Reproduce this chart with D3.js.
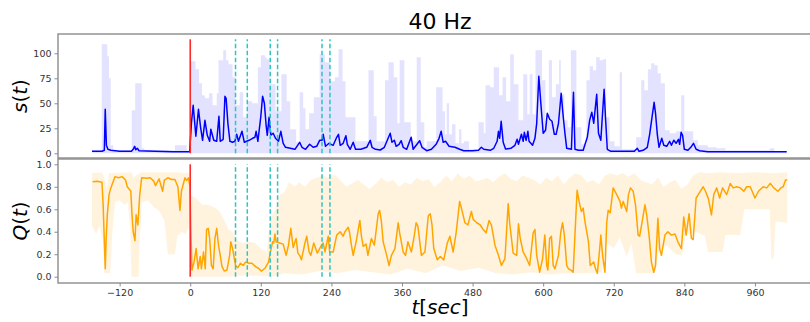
<!DOCTYPE html>
<html><head><meta charset="utf-8">
<script src="https://cdn.jsdelivr.net/npm/d3@7"></script>
<style>
html,body{margin:0;padding:0;background:#fff;}
svg{display:block;font-family:"DejaVu Sans",sans-serif;}
</style></head>
<body><svg id="c" width="810" height="322"></svg>
<script>
// ---------- data ----------
const title = "40 Hz";
const xTicks = [-120, 0, 120, 240, 360, 480, 600, 720, 840, 960];
const sTicks = [0, 25, 50, 75, 100];
const qTicks = [0.0, 0.2, 0.4, 0.6, 0.8, 1.0];
const stimTime = [0];
const dashTimes = [77, 97, 136, 148.5, 224, 237.5];
const markerTop = [0, 114];   // s-range of vertical markers
const markerBot = [0, 1.0];   // Q-range of vertical markers

// s(t) mean line [t, s]
const sLine = [[-167,2],[-150,2],[-146,3],[-144.5,44],[-142.5,8],[-140,4],[-135,3],[-120,2],[-100,2],[-97,4],[-94.5,7],[-92.5,3.5],[-90,5],[-87,2.5],[-60,2],[-30,1.5],[-1,1.5],
[2,30],[5,48],[9.6,17],[14,44],[17.6,26],[21,13],[25,33],[29,18],[33,12],[35,24],[40,13],[45,12],[48.8,37],[51,12],[56,14],[59,57],[61,55],[64,30],[67.5,12],[72,11],[76,12],[79,19],[82,12],[88,22],[92,11],[100,13],[106,15],[110,16],[112,22],[115,12],[120,37],[123,57],[126,50],[129,28],[131,18],[134,36],[137,18],[141,20],[145,15],[150,12],[154,22],[158,10],[162,6],[170,5],[178,4],[186,11],[190,6],[196,4],[203,9],[209,6],[215,7],[220,13],[224,13],[226,19],[230,7],[236,10],[243,8],[249,16],[252,19],[255,8],[260,10],[264.6,17.6],[267,9],[272,4],[277,11],[281,4],[290,4],[300,6],[306,13],[309,6],[315,4],[323,3.3],[330,6],[340,20],[343,11],[347,13],[350,7],[355,9],[358.6,12.6],[362,6],[368,4],[375.6,16],[379,4],[390,12.6],[394,6],[402,2.6],[410,4],[418,9],[423,15],[426.6,22],[430,11],[434,12],[440,7],[450,6],[458,4],[465,2.6],[480,2.6],[490,3],[495,6],[499,4],[510,3],[516,5],[521.7,12],[524,22],[526,15],[528.6,32],[532,11],[536,4.3],[545,5],[552,8],[555.7,14],[558,9],[563,19],[566,12],[568,21],[571,13],[574,22],[576,12],[582,8],[586,15],[589,30],[592.6,77],[596,50],[600,20],[604,23],[607,40],[611,34],[615,32],[619,19],[622,19],[626,30],[630.6,60],[634,37],[637,20],[640,5],[648,4],[651.5,61],[654,4],[660,3],[668,3],[675,16],[679,33],[682.7,41],[686,30],[688,42],[691,59],[694,20],[698,13],[700.5,36],[703.6,64],[706,35],[709,4],[715,2],[755,2],[760,5],[763,2],[770,3],[777,6],[781,19],[785,36],[788.6,51],[791,40],[794,19],[797,6],[801.6,15],[805,8],[810,7],[815,12],[818,8],[822,13],[826,10],[830,14],[832,9],[834.5,21],[837,18],[840,4],[846,3],[851,6],[855.5,10],[860,4],[866,2.6],[880,1.5],[1014,1.5]];

// s(t) spread upper edge (step) [t, s]
const sBand = [[-167,3],[-150.5,109],[-141,97],[-138,75],[-135,8],[-131,3],[-99.5,43],[-93.5,70],[-82.5,5],[-78,3],[-26,8],[-6,3],[0,92],[9,84],[15,70],[20,58],[25,55],[32,60],[38,48],[45,60],[48,93],[56,103],[61,93],[65,89],[72,76],[77,48],[84,61],[90,36],[97,52],[105,50],[115,86],[120,98],[127,96],[130,94],[135,69],[145,42],[155,79],[164,52],[170,24],[180,11],[186,61],[192,45],[196,24],[202,40],[210,56],[220,99],[229,91],[237,72],[246,76],[252,104],[259,72],[264,36],[281,12],[303,83],[312,37],[317,12],[331,73],[337,91],[346,76],[352,30],[356,93],[364,31],[375,12],[385,96],[392,31],[398,6],[402,12],[418,66],[429,42],[433,19],[436,50],[440,19],[445,29],[451,10],[457,24],[461,10],[465,12],[474,4],[490,31],[499,20],[502,68],[510,66],[516,86],[525,58],[531,76],[537,52],[544,99],[550,69],[558,33],[566,79],[573,39],[577,79],[582,39],[587,103],[598,73],[604,33],[609.6,93],[615,56],[621.5,69],[627,93],[630,59],[636,33],[641.6,26],[647,103],[656.5,26],[665,9],[673.5,73],[679,87],[684.7,83],[690,96],[696,93],[701.6,94],[707,36],[713,12],[721.4,7],[730,81],[734,4],[758,16],[766.6,73],[772,63],[778,84],[783.5,90],[789,88],[794.6,80],[800,70],[807,23],[815,20],[826,22],[834.5,58],[840,22],[846,22],[855,13],[863,8],[880,6],[895,5],[910,3],[985,5],[993,2],[1014,2]];

// Q(t) mean line [t, Q]
const qLine = [[-166,0.845],[-158,0.85],[-150,0.84],[-148,0.63],[-144.5,0.07],[-143,0.33],[-141,0.55],[-138,0.73],[-135,0.79],[-128,0.89],[-122,0.88],[-116,0.89],[-110,0.86],[-107,0.8],[-101,0.76],[-99,0.55],[-97,0.4],[-94,0.32],[-92,0.55],[-89,0.46],[-86,0.72],[-82.6,0.88],[-74,0.875],[-68,0.88],[-62,0.85],[-59,0.81],[-53,0.87],[-47,0.76],[-44,0.86],[-38,0.88],[-32,0.865],[-26,0.865],[-21,0.80],[-17.5,0.59],[-15,0.76],[-9,0.88],[-6,0.855],[-3,0.88],[-0.5,0.80],
[1,0.42],[3,0.06],[6.5,0.13],[10,0.25],[13.4,0.07],[17,0.18],[19,0.07],[22.6,0.22],[25.5,0.07],[27.8,0.42],[30.6,0.43],[33,0.34],[36,0.10],[39,0.07],[42,0.34],[45,0.43],[48,0.28],[51,0.19],[54,0.09],[58,0.05],[62.5,0.06],[67,0.19],[69,0.31],[72,0.25],[77,0.10],[81,0.08],[85.5,0.12],[90,0.10],[94,0.13],[100,0.12],[105,0.12],[111,0.09],[116,0.075],[121,0.05],[127,0.075],[133,0.13],[136,0.21],[140,0.31],[142,0.30],[144,0.38],[146,0.31],[152,0.30],[158,0.29],[163,0.19],[167,0.28],[171,0.43],[175,0.26],[180,0.34],[183,0.21],[186,0.19],[189,0.15],[195,0.30],[198,0.36],[202,0.22],[205,0.19],[210,0.30],[216,0.21],[223,0.28],[226,0.30],[229,0.22],[234.6,0.36],[237,0.22],[243,0.22],[249,0.37],[255,0.40],[260,0.36],[263,0.40],[268.6,0.44],[271,0.39],[274,0.28],[277,0.19],[282,0.31],[288.4,0.50],[291,0.36],[294,0.27],[299,0.29],[302,0.19],[308,0.34],[313,0.28],[319.5,0.56],[322,0.59],[325,0.49],[328,0.31],[334,0.19],[338,0.10],[342,0.19],[348,0.25],[353.5,0.48],[356,0.39],[362,0.22],[366,0.19],[370,0.31],[376,0.22],[381,0.37],[384,0.48],[387,0.45],[393,0.19],[399,0.22],[404.6,0.54],[408,0.56],[411,0.46],[414,0.25],[420,0.15],[425,0.18],[431,0.15],[437,0.30],[441.4,0.36],[447,0.22],[452,0.39],[458,0.67],[461,0.61],[467,0.48],[472,0.46],[478,0.58],[481,0.51],[487,0.48],[493,0.46],[498,0.42],[503,0.39],[508,0.5],[512,0.46],[518,0.28],[524,0.19],[529,0.10],[535,0.16],[540.5,0.65],[543,0.48],[549,0.21],[555,0.19],[558,0.47],[561,0.34],[566,0.22],[572,0.16],[577,0.10],[583,0.39],[586,0.42],[589,0.19],[594,0.04],[599,0.16],[602.8,0.37],[606,0.10],[608,0.06],[611,0.34],[614,0.36],[617,0.10],[620,0.07],[623,0.13],[626,0.19],[630,0.40],[633,0.48],[636,0.37],[640,0.10],[643,0.07],[647,0.06],[651,0.04],[654,0.37],[657.7,0.77],[661,0.67],[665,0.58],[668,0.61],[671,0.49],[677,0.31],[680,0.10],[686,0.13],[689,0.07],[692,0.03],[695.6,0.22],[698,0.37],[701,0.19],[705,0.04],[708,0.48],[710.5,0.59],[714,0.57],[719,0.79],[725,0.73],[730.6,0.67],[733,0.61],[736,0.67],[742,0.58],[745,0.73],[748.4,0.79],[753,0.76],[757,0.64],[761.4,0.37],[764,0.36],[768,0.48],[773,0.64],[776,0.55],[780,0.37],[784,0.13],[788,0.04],[791,0.10],[795,0.52],[798,0.25],[801,0.19],[807,0.37],[812,0.40],[818,0.37],[824,0.38],[829,0.31],[835,0.25],[839,0.53],[843,0.37],[848,0.56],[852,0.34],[855,0.33],[860,0.70],[866,0.75],[872,0.80],[876,0.76],[881,0.69],[886,0.55],[890,0.73],[895,0.79],[900,0.70],[905,0.79],[912,0.73],[918,0.83],[923,0.79],[929,0.80],[935,0.79],[941,0.76],[946,0.80],[952,0.80],[960,0.70],[966,0.76],[974,0.80],[980,0.79],[986,0.83],[992,0.79],[999,0.76],[1004,0.79],[1008,0.80],[1012,0.86],[1015,0.86]];

// Q(t) spread: upper and lower edges [t, Q]
const qUpper = [[-167,0.92],[-150,0.93],[-146,0.88],[-142,0.78],[-138,0.92],[-100,0.93],[-96,0.88],[-92,0.90],[-84,0.93],[-20,0.93],[-10,0.92],[-1,0.93],[1,0.72],[10,0.70],[20,0.64],[30,0.64],[40,0.62],[50,0.58],[58,0.50],[65,0.42],[72,0.40],[80,0.32],[90,0.30],[100,0.31],[110,0.30],[120,0.25],[130,0.22],[136,0.52],[145,0.60],[152,0.73],[160,0.75],[168,0.84],[178,0.80],[185,0.84],[195,0.80],[205,0.86],[215,0.88],[225,0.90],[235,0.88],[245,0.91],[255,0.86],[265,0.80],[275,0.83],[285,0.86],[295,0.82],[305,0.78],[315,0.83],[325,0.88],[335,0.84],[345,0.86],[355,0.80],[365,0.84],[375,0.82],[385,0.88],[395,0.85],[405,0.87],[415,0.80],[425,0.84],[435,0.90],[445,0.85],[455,0.92],[465,0.87],[475,0.90],[485,0.85],[495,0.86],[505,0.88],[515,0.84],[525,0.89],[535,0.92],[545,0.87],[555,0.85],[565,0.90],[575,0.88],[585,0.86],[595,0.82],[605,0.88],[615,0.85],[625,0.90],[635,0.82],[645,0.88],[655,0.92],[665,0.90],[675,0.84],[685,0.86],[695,0.82],[705,0.90],[715,0.92],[725,0.90],[735,0.92],[745,0.89],[755,0.92],[765,0.86],[775,0.84],[785,0.82],[795,0.88],[805,0.80],[815,0.84],[825,0.86],[835,0.78],[845,0.82],[855,0.90],[865,0.93],[880,0.92],[900,0.93],[930,0.92],[960,0.93],[990,0.92],[1015,0.93]];
const qLower = [[-167,0.45],[-160,0.38],[-154,0.45],[-148,0.30],[-146,0.03],[-136,0.03],[-133,0.35],[-128,0.66],[-120,0.68],[-112,0.64],[-106,0.66],[-102,0.40],[-100,0.0],[-88,0.0],[-86,0.32],[-82,0.66],[-72,0.68],[-62,0.62],[-52,0.58],[-44,0.50],[-38,0.20],[-26,0.20],[-22,0.36],[-15,0.40],[-8,0.38],[-1,0.45],[1,0.0],[60,0.0],[100,0.01],[140,0.0],[160,0.03],[190,0.02],[220,0.05],[250,0.03],[280,0.06],[310,0.04],[340,0.02],[370,0.07],[400,0.03],[430,0.1],[460,0.05],[490,0.08],[520,0.03],[550,0.02],[580,0.04],[610,0.02],[640,0.03],[670,0.03],[700,0.04],[708,0.30],[720,0.25],[730,0.35],[742,0.18],[750,0.30],[758,0.03],[790,0.03],[796,0.22],[810,0.28],[825,0.20],[836,0.19],[842,0.37],[860,0.40],[875,0.36],[880,0.22],[905,0.22],[910,0.37],[935,0.37],[942,0.6],[985,0.6],[988,0.16],[992,0.16],[995,0.49],[1015,0.48]];

// ---------- layout ----------
const svg = d3.select("#c");
const L = 58, R = 822;
const top1 = 34, bot1 = 158, top2 = 159, bot2 = 283;
const x = d3.scaleLinear().domain([-224.8, 1074]).range([L, R]);
const yS = d3.scaleLinear().domain([-4.7, 119.3]).range([bot1, top1]);
const yQ = d3.scaleLinear().domain([-0.056, 1.047]).range([bot2, top2]);

const defs = svg.append("defs");
defs.append("clipPath").attr("id","c1").append("rect").attr("x",L).attr("y",top1).attr("width",R-L).attr("height",bot1-top1);
defs.append("clipPath").attr("id","c2").append("rect").attr("x",L).attr("y",top2).attr("width",R-L).attr("height",bot2-top2);

// ---- top panel ----
const g1 = svg.append("g").attr("clip-path","url(#c1)");
g1.append("path").datum(sBand)
  .attr("d", d3.area().curve(d3.curveStepAfter).x(d=>x(d[0])).y0(yS(0)).y1(d=>yS(d[1])))
  .attr("fill","rgba(0,0,255,0.11)");
g1.append("path").datum(sLine)
  .attr("d", d3.line().x(d=>x(d[0])).y(d=>yS(d[1])))
  .attr("fill","none").attr("stroke","#0000ff").attr("stroke-width",1.5).attr("stroke-linejoin","round");
g1.selectAll("line.stim").data(stimTime).join("line")
  .attr("x1",d=>x(d)).attr("x2",d=>x(d)).attr("y1",yS(markerTop[0])).attr("y2",yS(markerTop[1]))
  .attr("stroke","#ff2a2a").attr("stroke-width",1.6);
g1.selectAll("line.dash").data(dashTimes).join("line")
  .attr("x1",d=>x(d)).attr("x2",d=>x(d)).attr("y1",yS(markerTop[0])).attr("y2",yS(markerTop[1]))
  .attr("stroke","#2ec4c4").attr("stroke-width",1.5).attr("stroke-dasharray","4.5,2.5");

// ---- bottom panel ----
const g2 = svg.append("g").attr("clip-path","url(#c2)");
const poly = qUpper.concat(qLower.slice().reverse());
g2.append("path").datum(poly)
  .attr("d", d3.line().x(d=>x(d[0])).y(d=>yQ(d[1])) + "")
  .attr("d", d3.line().x(d=>x(d[0])).y(d=>yQ(d[1]))(poly) + "Z")
  .attr("fill","rgba(255,165,0,0.13)").attr("stroke","none");
g2.append("path").datum(qLine)
  .attr("d", d3.line().x(d=>x(d[0])).y(d=>yQ(d[1])))
  .attr("fill","none").attr("stroke","#ffa500").attr("stroke-width",1.5).attr("stroke-linejoin","round");
g2.selectAll("line.stim").data(stimTime).join("line")
  .attr("x1",d=>x(d)).attr("x2",d=>x(d)).attr("y1",yQ(markerBot[0])).attr("y2",yQ(markerBot[1]))
  .attr("stroke","#ff2a2a").attr("stroke-width",1.6);
g2.selectAll("line.dash").data(dashTimes).join("line")
  .attr("x1",d=>x(d)).attr("x2",d=>x(d)).attr("y1",yQ(markerBot[0])).attr("y2",yQ(markerBot[1]))
  .attr("stroke","#2ec4c4").attr("stroke-width",1.5).attr("stroke-dasharray","4.5,2.5");

// ---- frames ----
const spine = "#8c8c8c";
[[top1,bot1],[top2,bot2]].forEach(([t,b])=>{
  svg.append("rect").attr("x",L).attr("y",t).attr("width",R-L).attr("height",b-t)
    .attr("fill","none").attr("stroke",spine).attr("stroke-width",1.4);
});

// ---- axes ----
const tickCol = "#333";
function styleAxis(g){
  g.select(".domain").remove();
  g.selectAll(".tick line").attr("stroke",spine).attr("stroke-width",1);
  g.selectAll(".tick text").attr("fill",tickCol).style("font-size","9.5px").style("font-family","DejaVu Sans");
}
svg.append("g").attr("transform",`translate(0,${bot2})`)
  .call(d3.axisBottom(x).tickValues(xTicks).tickSize(3.5).tickPadding(3).tickFormat(d=>String(d).replace("-","\u2212")))
  .call(styleAxis);
svg.append("g").attr("transform",`translate(${L},0)`)
  .call(d3.axisLeft(yS).tickValues(sTicks).tickSize(3.5).tickPadding(3).tickFormat(d3.format("d")))
  .call(styleAxis);
svg.append("g").attr("transform",`translate(${L},0)`)
  .call(d3.axisLeft(yQ).tickValues(qTicks).tickSize(3.5).tickPadding(3).tickFormat(d3.format(".1f")))
  .call(styleAxis);

// ---- text ----
svg.append("text").attr("x",440).attr("y",29).attr("text-anchor","middle")
  .style("font-size","22px").attr("fill","#000").text(title);

function mathLabel(sel, parts){
  parts.forEach(([s,it])=>sel.append("tspan").style("font-style",it?"italic":"normal").text(s));
}
const yl1 = svg.append("text").attr("transform",`translate(27,${(top1+bot1)/2}) rotate(-90)`)
  .attr("text-anchor","middle").style("font-size","20px").attr("fill","#000");
mathLabel(yl1, [["s",1],["(",0],["t",1],[")",0]]);
const yl2 = svg.append("text").attr("transform",`translate(27,${(top2+bot2)/2}) rotate(-90)`)
  .attr("text-anchor","middle").style("font-size","20px").attr("fill","#000");
mathLabel(yl2, [["Q",1],["(",0],["t",1],[")",0]]);
const xl = svg.append("text").attr("x",440).attr("y",314).attr("text-anchor","middle")
  .style("font-size","20px").attr("fill","#000");
mathLabel(xl, [["t",1],["[",0],["sec",1],["]",0]]);
</script></body></html>
